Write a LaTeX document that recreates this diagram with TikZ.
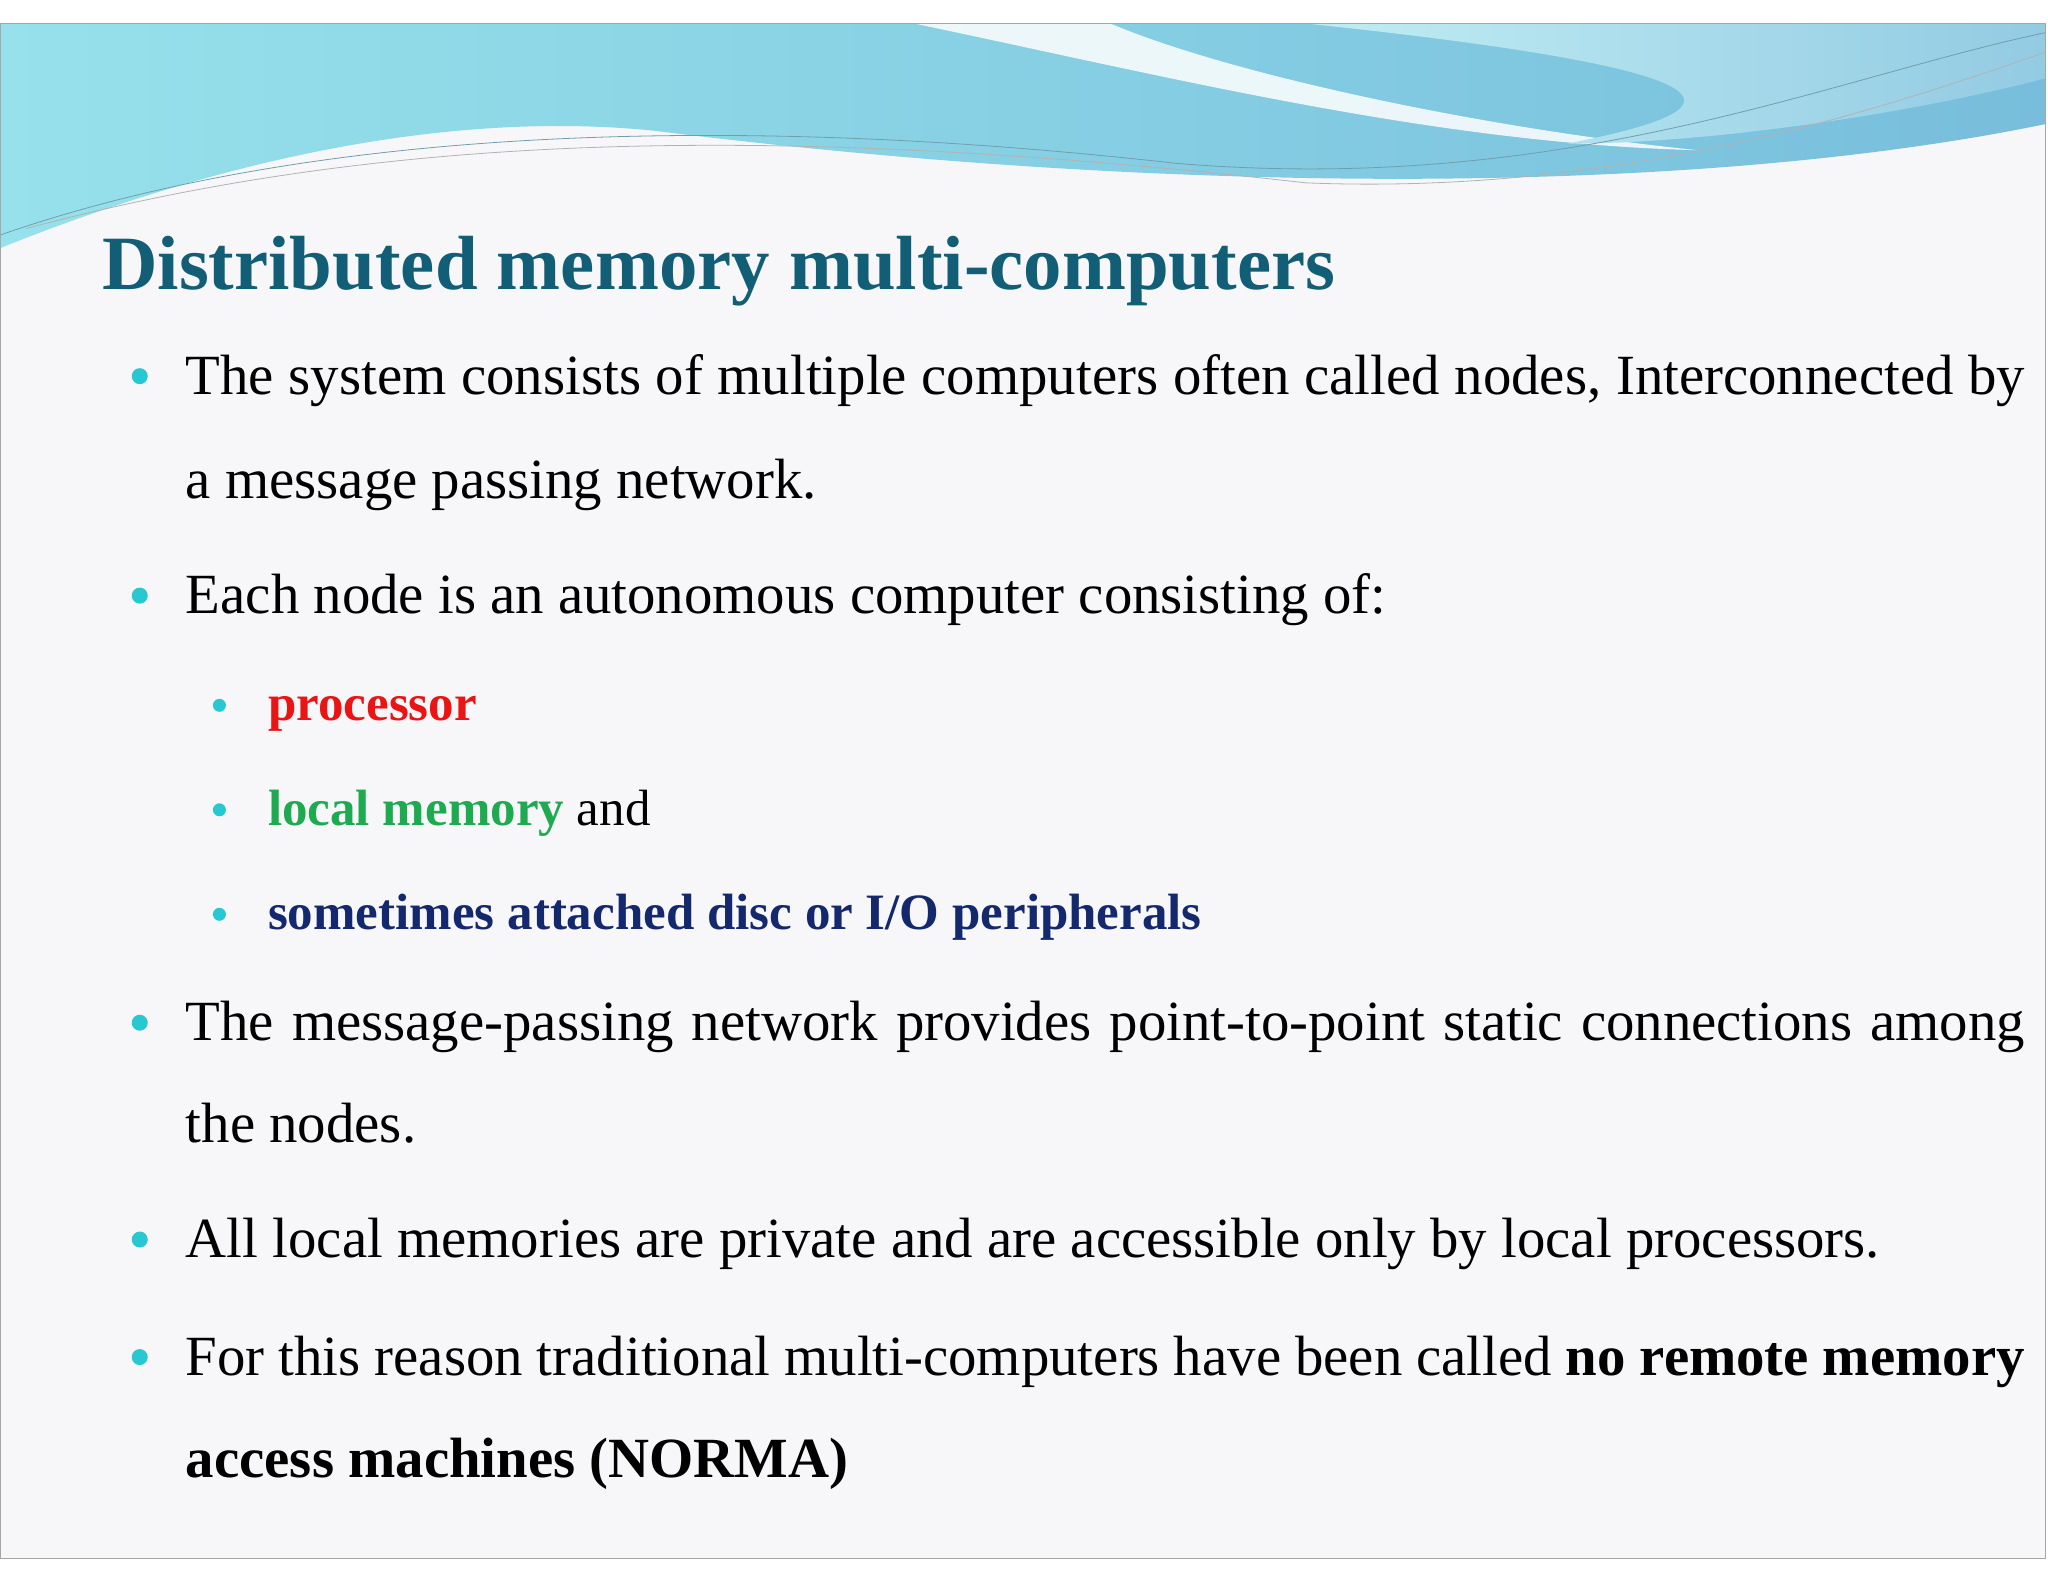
\documentclass[tikz,border=0pt]{standalone}
\usepackage{fontspec}
\setmainfont{Liberation Serif}
\definecolor{titlec}{RGB}{18,94,118}
\definecolor{bul}{RGB}{40,200,210}
\definecolor{procc}{RGB}{235,20,20}
\definecolor{memc}{RGB}{30,170,80}
\definecolor{discc}{RGB}{20,40,110}
\definecolor{bg}{RGB}{247,247,249}
\definecolor{wave1}{RGB}{120,190,220}
\definecolor{wave2}{RGB}{150,225,235}
\begin{document}
\begin{tikzpicture}[x=0.653pt,y=-0.653pt,
  txt/.style={anchor=base west,inner sep=0pt,font=\fontsize{28.4}{32}\selectfont},
  stxt/.style={anchor=base west,inner sep=0pt,font=\bfseries\fontsize{25.5}{30}\selectfont},
  bdot/.style={circle,fill=bul,inner sep=0pt,minimum size=8pt},
  sdot/.style={circle,fill=bul,inner sep=0pt,minimum size=6.5pt}]
\useasboundingbox (0,0) rectangle (1568,1210);
\fill[white] (0,0) rectangle (1568,1210);
\fill[bg] (0,18) rectangle (1566,1193);
% header waves
\shade[left color=wave2,right color=wave1] (0,18) -- (1566,18) -- (1566,95) .. controls (1300,150) and (900,150) .. (500,100) .. controls (300,80) and (100,150) .. (0,190) -- cycle;
\fill[white,opacity=0.85] (700,18) .. controls (900,60) and (1100,110) .. (1300,115) .. controls (1150,100) and (950,60) .. (850,18) -- cycle;
\shade[left color=wave2!60,right color=wave1!80] (1000,18) -- (1566,18) -- (1566,60) .. controls (1450,90) and (1300,110) .. (1200,110) .. controls (1300,90) and (1400,60) .. (1000,18) -- cycle;
\draw[titlec!60,thin] (0,180) .. controls (200,110) and (500,80) .. (900,125) .. controls (1200,150) and (1400,60) .. (1566,25);
\draw[gray!60,thin] (20,175) .. controls (300,100) and (600,95) .. (1000,140) .. controls (1250,150) and (1450,80) .. (1566,40);
\draw[gray!70] (0,18) rectangle (1566,1193);
% title
\node[txt,font=\bfseries\fontsize{38.4}{42}\selectfont,text=titlec] (title) at (78,222) {Distributed memory multi-computers};
% bullets
\foreach \n/\y in {b1/302,b3/470,b4/797,b6/963,b7/1053}{\node[bdot] (\n) at (107,\y-14) {};}
\foreach \n/\y in {s1/552,s2/632,s3/712}{\node[sdot] (\n) at (168,\y-12) {};}
\node[txt] (l1) at (142,302) {\makebox[1408\dimexpr0.653pt][s]{The system consists of multiple computers often called nodes, Interconnected by}};
\node[txt] (l2) at (142,382) {a message passing network.};
\node[txt] (l3) at (142,470) {Each node is an autonomous computer consisting of:};
\node[stxt,text=procc] (p1) at (205,552) {processor};
\node[stxt] (p2) at (205,632) {\textcolor{memc}{local memory} \mdseries and};
\node[stxt,text=discc] (p3) at (205,712) {sometimes attached disc or I/O peripherals};
\node[txt] (l4) at (142,797) {\makebox[1408\dimexpr0.653pt][s]{The message-passing network provides point-to-point static connections among}};
\node[txt] (l5) at (142,875) {the nodes.};
\node[txt] (l6) at (142,963) {All local memories are private and are accessible only by local processors.};
\node[txt] (l7) at (142,1053) {\makebox[1408\dimexpr0.653pt][s]{For this reason traditional multi-computers have been called \textbf{no remote memory}}};
\node[txt] (l8) at (142,1131) {\bfseries access machines (NORMA)};
\end{tikzpicture}
\end{document}
